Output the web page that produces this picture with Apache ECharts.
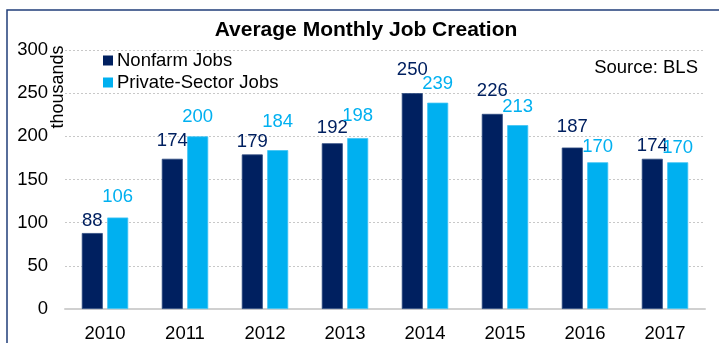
<!DOCTYPE html>
<html><head><meta charset="utf-8">
<script src="https://cdn.jsdelivr.net/npm/echarts@6/dist/echarts.min.js"></script>
<style>html,body{margin:0;padding:0;background:#fff}#c{width:719px;height:343px}</style>
</head><body><div id="c"></div>
<script>
const years = ['2010','2011','2012','2013','2014','2015','2016','2017'];
const nonfarm = [88,174,179,192,250,226,187,174];
const privateSector = [106,200,184,198,239,213,170,170];
const yTicks = [0,50,100,150,200,250,300];

// label placement (pixels between label and bar top), hand-placed in the original
const nonfarmLabelGap = [3,8,3,6,14,13,11,3];
const privateLabelGap = [11,10,19,13,9,9,6,5];

const NAVY = '#002060', LIGHT = '#00B0F0';
const FONT = 'Liberation Sans, Arial, sans-serif';
const FS = 18.5;
function withLabels(values, gaps){
  return values.map((v,i)=>({value:v, label:{distance:gaps[i]}}));
}
const chart = echarts.init(document.getElementById('c'), null, {renderer:'canvas'});
chart.setOption({
  animation:false,
  title:{text:'Average Monthly Job Creation', left:366, top:20, padding:0, textAlign:'center',
    textStyle:{fontFamily:FONT, fontSize:21, fontWeight:'bold', color:'#000'}},
  legend:{orient:'vertical', left:103, top:51, padding:0, itemWidth:10, itemHeight:10, itemGap:3,
    icon:'rect', itemStyle:{borderWidth:0},
    textStyle:{fontFamily:FONT, fontSize:FS, color:'#000', padding:[0,0,0,-1]},
    data:['Nonfarm Jobs','Private-Sector Jobs']},
  grid:{left:65, right:14, top:50, bottom:34},
  xAxis:{type:'category', data:years,
    axisLine:{lineStyle:{color:'#d0d0d0', width:2}}, axisTick:{show:false},
    axisLabel:{fontFamily:FONT, fontSize:FS, color:'#000', margin:15}},
  yAxis:{type:'value', min:yTicks[0], max:yTicks[yTicks.length-1], interval:50,
    axisLine:{show:false}, axisTick:{show:false},
    axisLabel:{fontFamily:FONT, fontSize:FS, color:'#000', margin:17},
    splitLine:{lineStyle:{color:'#c8c8c8', type:[2,2], width:1}}},
  series:[
    {name:'Nonfarm Jobs', type:'bar', data:withLabels(nonfarm, nonfarmLabelGap), barWidth:21, barGap:'21%',
     itemStyle:{color:NAVY, borderColor:'#2c4a80', borderWidth:0.8},
     label:{show:true, position:'top', fontFamily:FONT, fontSize:FS, color:NAVY}},
    {name:'Private-Sector Jobs', type:'bar', data:withLabels(privateSector, privateLabelGap), barWidth:21,
     itemStyle:{color:LIGHT, borderColor:'#40c4f4', borderWidth:0.8},
     label:{show:true, position:'top', fontFamily:FONT, fontSize:FS, color:LIGHT}}
  ],
  graphic:[
    {type:'polyline', shape:{points:[[7,343],[7,10],[719,10]]}, style:{stroke:'#203E7A', lineWidth:1.5, fill:null}},
    {type:'text', x:58, y:87, rotation:Math.PI/2, style:{text:'thousands', fontFamily:FONT, fontSize:18, fill:'#000', align:'center', verticalAlign:'middle'}},
    {type:'text', x:698, y:68, style:{text:'Source: BLS', fontFamily:FONT, fontSize:FS, fill:'#000', align:'right', verticalAlign:'middle'}}
  ]
});
</script></body></html>
